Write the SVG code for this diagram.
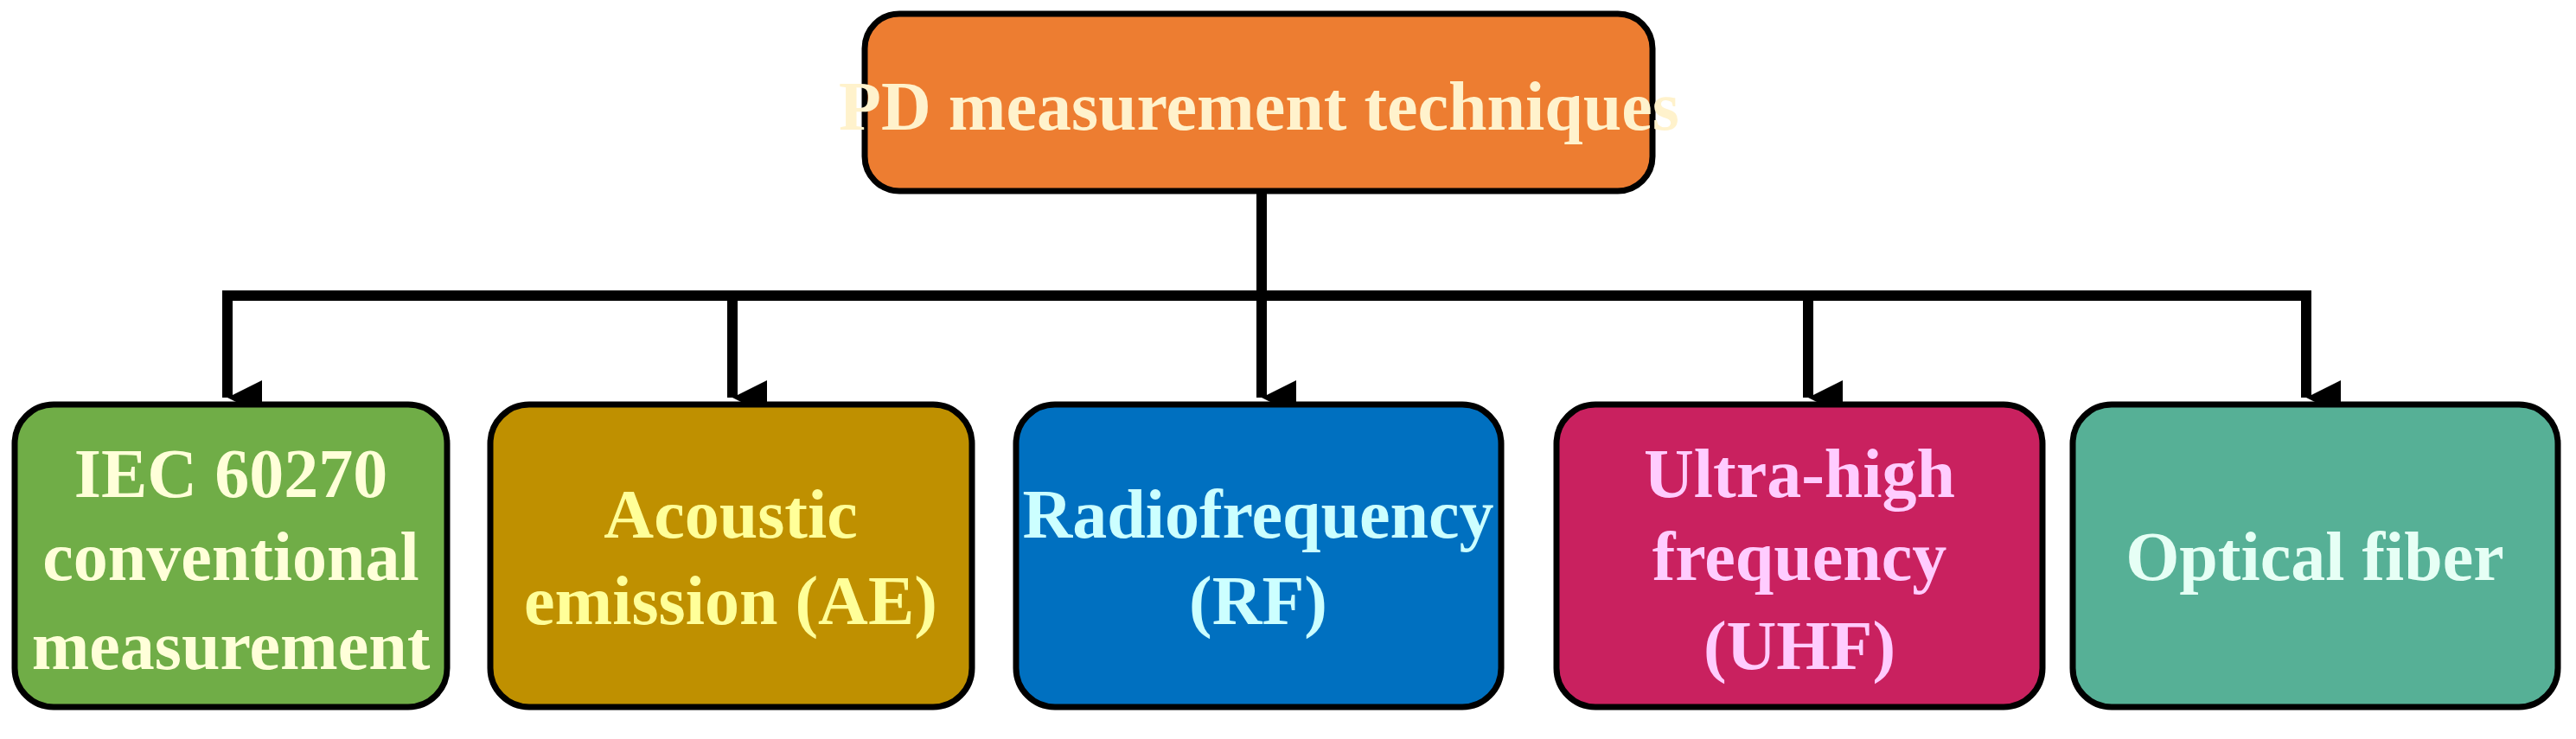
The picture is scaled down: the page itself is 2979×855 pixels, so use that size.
<svg xmlns="http://www.w3.org/2000/svg" width="2979" height="855" viewBox="0 0 2979 855">
<style>
.box{stroke:#000;stroke-width:7}
text{font-family:"Liberation Serif","Times New Roman",serif;font-weight:bold;font-size:80px;text-anchor:middle}
.c{fill:none;stroke:#000;stroke-width:12}
</style>
<defs><marker id="a" markerUnits="userSpaceOnUse" markerWidth="40" markerHeight="40" refX="17" refY="34" orient="auto-start-reverse" viewBox="0 0 34 34"><path d="M0,0 L34,0 L17,34 Z" fill="#000"/></marker></defs>
<rect width="2979" height="855" fill="#fff"/>
<g id="connectors">
<path class="c" d="M1459,221 V342"/>
<path class="c" d="M257,342 H2673"/>
<path class="c" d="M263,342 V460" marker-end="url(#a)"/>
<path class="c" d="M847,342 V460" marker-end="url(#a)"/>
<path class="c" d="M1459,342 V460" marker-end="url(#a)"/>
<path class="c" d="M2091,342 V460" marker-end="url(#a)"/>
<path class="c" d="M2667,342 V460" marker-end="url(#a)"/>
</g>
<g id="root"><rect class="box" x="1000" y="16" width="911" height="205" rx="40" fill="#ED7D31"/><text x="1456" y="150" fill="#FFF2CC" font-size="74">PD measurement techniques</text></g>
<g id="iec"><rect class="box" x="17" y="468" width="500" height="350" rx="45" fill="#70AD47"/><text fill="#FFFFD9"><tspan x="267" y="575">IEC 60270</tspan><tspan x="267" y="671">conventional</tspan><tspan x="267" y="774">measurement</tspan></text></g>
<g id="ae"><rect class="box" x="567" y="468" width="557" height="350" rx="45" fill="#BF9000"/><text fill="#FFFF99"><tspan x="845" y="622">Acoustic</tspan><tspan x="845" y="722">emission (AE)</tspan></text></g>
<g id="rf"><rect class="box" x="1175" y="468" width="561" height="350" rx="45" fill="#0070C0"/><text fill="#CCFFFF"><tspan x="1455" y="622">Radiofrequency</tspan><tspan x="1455" y="722">(RF)</tspan></text></g>
<g id="uhf"><rect class="box" x="1800" y="468" width="562" height="350" rx="45" fill="#C9215F"/><text fill="#FFCCFF"><tspan x="2081" y="575">Ultra-high</tspan><tspan x="2081" y="671">frequency</tspan><tspan x="2081" y="774">(UHF)</tspan></text></g>
<g id="of"><rect class="box" x="2397" y="468" width="561" height="350" rx="45" fill="#56B096"/><text fill="#E6FFF5"><tspan x="2677" y="671">Optical fiber</tspan></text></g>
</svg>
